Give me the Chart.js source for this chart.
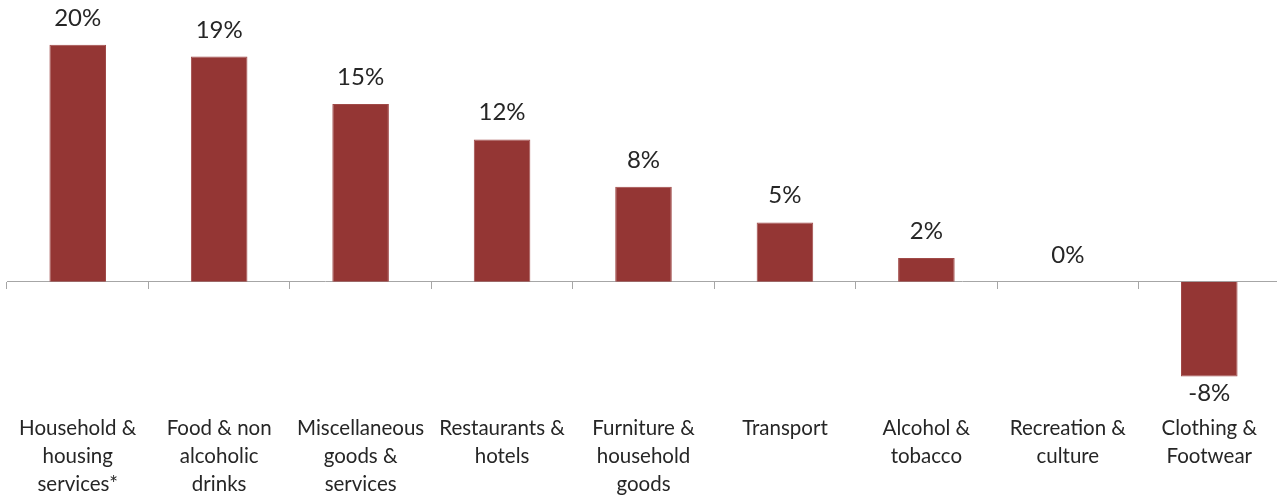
<!DOCTYPE html>
<html>
<head>
<meta charset="utf-8">
<script src="https://cdn.jsdelivr.net/npm/chart.js@4/dist/chart.umd.min.js"></script>
<style>
  html, body { margin: 0; padding: 0; background: #ffffff; overflow: hidden; }
  #wrap { position: relative; width: 1280px; height: 513px; }
</style>
</head>
<body>
<div id="wrap"><canvas id="chart"></canvas></div>
<script>
// Spending categories (multi-line axis labels)
const categories = [
  ['Household &', 'housing', 'services*'],
  ['Food & non', 'alcoholic', 'drinks'],
  ['Miscellaneous', 'goods &', 'services'],
  ['Restaurants &', 'hotels'],
  ['Furniture &', 'household', 'goods'],
  ['Transport'],
  ['Alcohol &', 'tobacco'],
  ['Recreation &', 'culture'],
  ['Clothing &', 'Footwear']
];

// Percentage change per category
const changes = [20, 19, 15, 12, 8, 5, 2, 0, -8];

// Value axis range
const yMin = -10;
const yMax = 22;

const BAR_COLOR = '#943634';
const AXIS_COLOR = '#a6a6a6';
const TEXT_COLOR = '#262626';
const FONT = 'Lato, "Open Sans", sans-serif';

// Draws the percentage above positive bars and below negative ones
const valueLabels = {
  id: 'valueLabels',
  afterDatasetsDraw(chart) {
    const ctx = chart.ctx;
    const meta = chart.getDatasetMeta(0);
    const values = chart.data.datasets[0].data;
    ctx.save();
    ctx.fillStyle = TEXT_COLOR;
    ctx.font = '24px ' + FONT;
    ctx.textAlign = 'center';
    meta.data.forEach((bar, i) => {
      const v = values[i];
      const text = v + '%';
      if (v >= 0) {
        ctx.textBaseline = 'alphabetic';
        ctx.fillText(text, bar.x, bar.y - 19);
      } else {
        ctx.textBaseline = 'top';
        ctx.fillText(text, bar.x, bar.y + 5);
      }
    });
    ctx.restore();
  }
};

new Chart(document.getElementById('chart'), {
  type: 'bar',
  data: {
    labels: categories,
    datasets: [{
      data: changes,
      backgroundColor: BAR_COLOR,
      borderColor: '#a04a48',
      borderWidth: 1,
      categoryPercentage: 1.0,
      barPercentage: 0.4,
      xAxisID: 'x',
      yAxisID: 'y'
    }]
  },
  options: {
    responsive: true,
    maintainAspectRatio: false,
    animation: false,
    layout: { padding: { left: 7, right: 0, top: 21, bottom: 0 } },
    plugins: {
      legend: { display: false },
      tooltip: { enabled: false }
    },
    scales: {
      // Zero line with category separator ticks
      x: {
        type: 'category',
        position: { y: 0 },
        offset: true,
        grid: {
          display: true,
          offset: true,
          drawOnChartArea: false,
          drawTicks: true,
          tickLength: 7,
          color: AXIS_COLOR,
          lineWidth: 1
        },
        border: { display: true, color: AXIS_COLOR, width: 1 },
        ticks: { display: false }
      },
      // Category names along the bottom
      xl: {
        type: 'category',
        position: 'bottom',
        offset: true,
        grid: { display: false, drawTicks: false, tickLength: 0 },
        border: { display: false },
        ticks: {
          color: TEXT_COLOR,
          font: { family: FONT, size: 20.5, lineHeight: 1.38 },
          padding: 14,
          maxRotation: 0,
          minRotation: 0,
          autoSkip: false
        }
      },
      y: {
        display: false,
        min: yMin,
        max: yMax
      }
    }
  },
  plugins: [valueLabels]
});
</script>
</body>
</html>
